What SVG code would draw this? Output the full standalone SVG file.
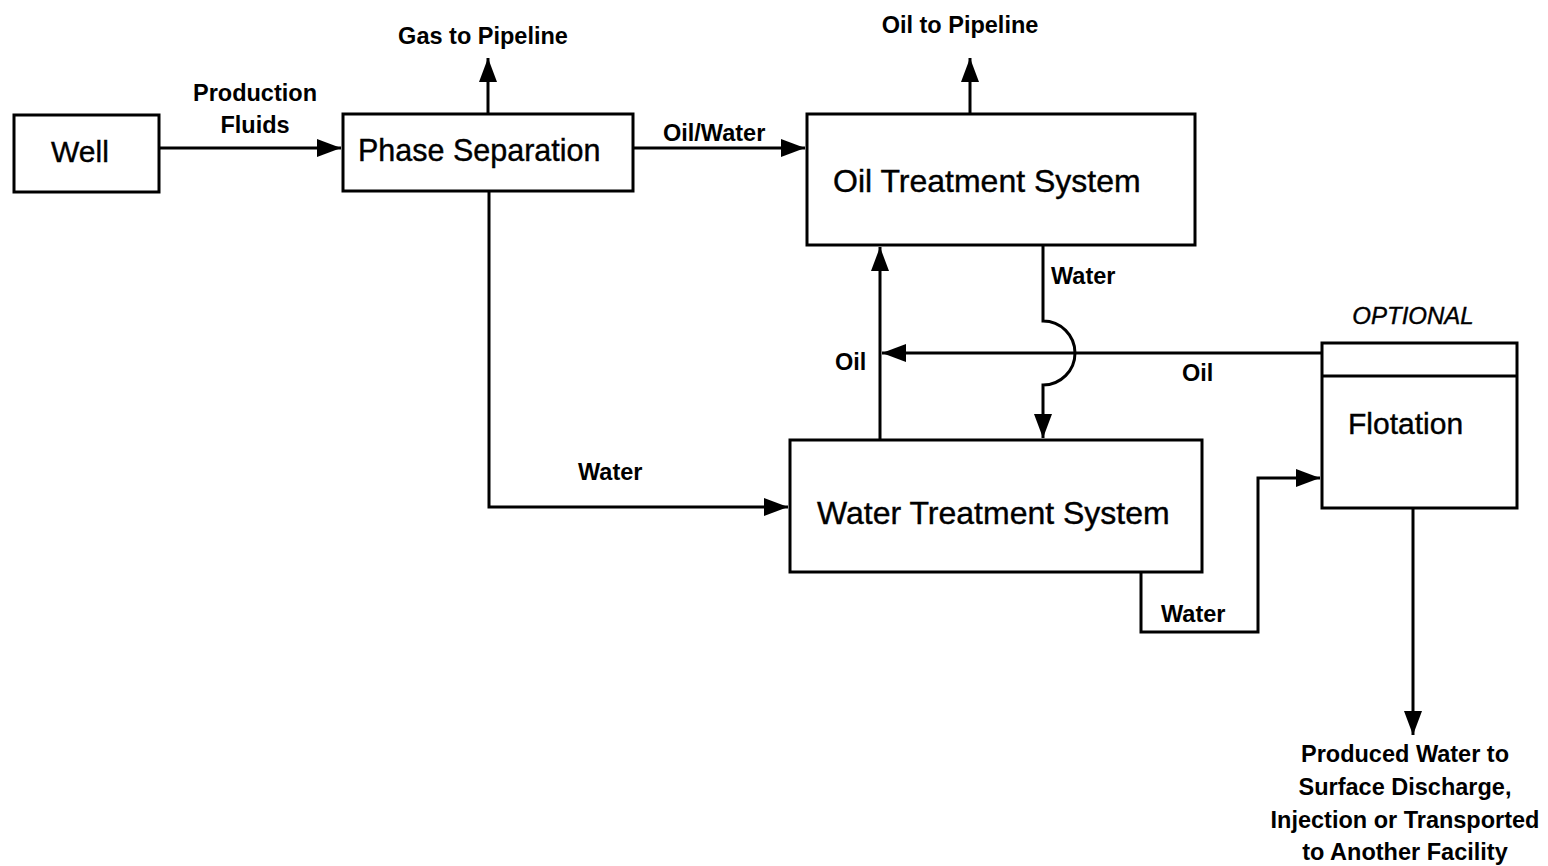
<svg xmlns="http://www.w3.org/2000/svg" width="1548" height="866" viewBox="0 0 1548 866">
<style>
.box{fill:#fff;stroke:#000;stroke-width:3}
.ln{fill:none;stroke:#000;stroke-width:3}
.big{font-family:"Liberation Sans",Arial,sans-serif;fill:#000;stroke:#000;stroke-width:0.4}
.lbl{font-family:"Liberation Sans",Arial,sans-serif;font-weight:bold;font-size:23.5px;fill:#000}
</style>
<defs>
<marker id="ah" markerUnits="userSpaceOnUse" markerWidth="26" markerHeight="20" refX="24" refY="9" orient="auto">
<path d="M0,0 L24,9 L0,18 z" fill="#000"/>
</marker>
</defs>
<rect width="1548" height="866" fill="#fff"/>
<g id="connectors">
<path class="ln" d="M159,148 H341" marker-end="url(#ah)"/>
<path class="ln" d="M488,114 V58" marker-end="url(#ah)"/>
<path class="ln" d="M633,148 H805" marker-end="url(#ah)"/>
<path class="ln" d="M970,114 V58" marker-end="url(#ah)"/>
<path class="ln" d="M489,191 V507 H788" marker-end="url(#ah)"/>
<path class="ln" d="M880,440 V247" marker-end="url(#ah)"/>
<path class="ln" d="M1322,353 H882" marker-end="url(#ah)"/>
<path class="ln" d="M1043,245 V321 A32,32 0 0 1 1043,385 V438" marker-end="url(#ah)"/>
<path class="ln" d="M1141,572 V632 H1258 V478 H1320" marker-end="url(#ah)"/>
<path class="ln" d="M1413,508 V735" marker-end="url(#ah)"/>
</g>
<g id="well">
<rect class="box" x="14" y="115" width="145" height="77"/>
<text class="big" x="80" y="162" font-size="30" text-anchor="middle">Well</text>
</g>
<g id="phase-separation">
<rect class="box" x="343" y="114" width="290" height="77"/>
<text class="big" x="358" y="161" font-size="30.5">Phase Separation</text>
</g>
<g id="oil-treatment">
<rect class="box" x="807" y="114" width="388" height="131"/>
<text class="big" x="833" y="192" font-size="32">Oil Treatment System</text>
</g>
<g id="water-treatment">
<rect class="box" x="790" y="440" width="412" height="132"/>
<text class="big" x="817" y="524" font-size="32">Water Treatment System</text>
</g>
<g id="flotation">
<rect class="box" x="1322" y="343" width="195" height="165"/>
<line class="ln" x1="1322" y1="376" x2="1517" y2="376"/>
<text class="big" x="1348" y="434" font-size="30">Flotation</text>
<text class="big" x="1413" y="324" font-size="24" font-style="italic" text-anchor="middle">OPTIONAL</text>
</g>
<g id="labels">
<text class="lbl" x="255" y="101" text-anchor="middle">Production</text>
<text class="lbl" x="255" y="133" text-anchor="middle">Fluids</text>
<text class="lbl" x="483" y="44" text-anchor="middle">Gas to Pipeline</text>
<text class="lbl" x="960" y="33" text-anchor="middle">Oil to Pipeline</text>
<text class="lbl" x="663" y="141">Oil/Water</text>
<text class="lbl" x="1051" y="284">Water</text>
<text class="lbl" x="835" y="370">Oil</text>
<text class="lbl" x="1182" y="381">Oil</text>
<text class="lbl" x="578" y="480">Water</text>
<text class="lbl" x="1161" y="622">Water</text>
<text class="lbl" x="1405" y="762" text-anchor="middle">Produced Water to</text>
<text class="lbl" x="1405" y="795" text-anchor="middle">Surface Discharge,</text>
<text class="lbl" x="1405" y="828" text-anchor="middle">Injection or Transported</text>
<text class="lbl" x="1405" y="860" text-anchor="middle">to Another Facility</text>
</g>
</svg>
